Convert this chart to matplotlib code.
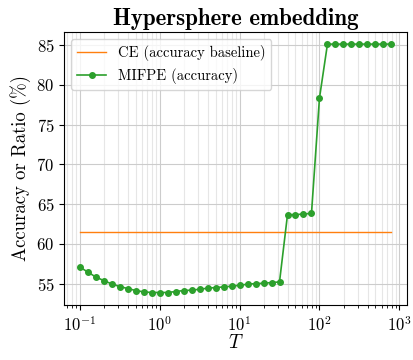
import numpy as np
import matplotlib
matplotlib.use("Agg")
import matplotlib.pyplot as plt

plt.rcParams["font.family"] = "serif"
plt.rcParams["font.serif"] = ["cmr10"]
plt.rcParams["mathtext.fontset"] = "cm"
plt.rcParams["axes.formatter.use_mathtext"] = True

# temperature sweep, 0.1 decade steps from 1e-1 to ~8e2
T = 10 ** np.arange(-1.0, 2.95, 0.1)

mifpe_acc = [57.08, 56.46, 55.83, 55.38, 54.96, 54.63, 54.38, 54.13, 53.96, 53.88,
             53.88, 53.88, 54.00, 54.13, 54.17, 54.29, 54.42, 54.50, 54.58, 54.67,
             54.79, 54.92, 55.00, 55.04, 55.13, 55.21,
             63.67, 63.67, 63.75, 63.83, 78.33,
             85.12, 85.12, 85.12, 85.12, 85.12, 85.12, 85.12, 85.12, 85.12]
ce_baseline = 61.45

fig = plt.figure(figsize=(4.14, 3.6), dpi=100)
ax = fig.add_axes([0.155, 0.153, 0.828, 0.759])

ax.plot([T[0], T[-1]], [ce_baseline, ce_baseline], color="#ff7f0e", linewidth=1.0,
        label="CE (accuracy baseline)")
ax.plot(T, mifpe_acc, color="#2ca02c", marker="o", markersize=4, linewidth=1.2,
        label="MIFPE (accuracy)")

ax.set_xscale("log")
ax.set_yticks([55, 60, 65, 70, 75, 80, 85])
ax.grid(which="major", color="#cccccc", linewidth=0.8)
ax.grid(which="minor", axis="x", color="#e6e6e6", linewidth=0.8)
ax.set_axisbelow(True)

ax.tick_params(labelsize=12)
ax.set_xlabel("$T$", fontsize=14, labelpad=0)
ax.set_ylabel("Accuracy or Ratio (%)", fontsize=13.5)
ax.set_title("Hypersphere embedding", fontsize=16.5, fontfamily="cmb10", pad=5)
ax.legend(loc="upper left", fontsize=10.5)

plt.savefig("out.png")
